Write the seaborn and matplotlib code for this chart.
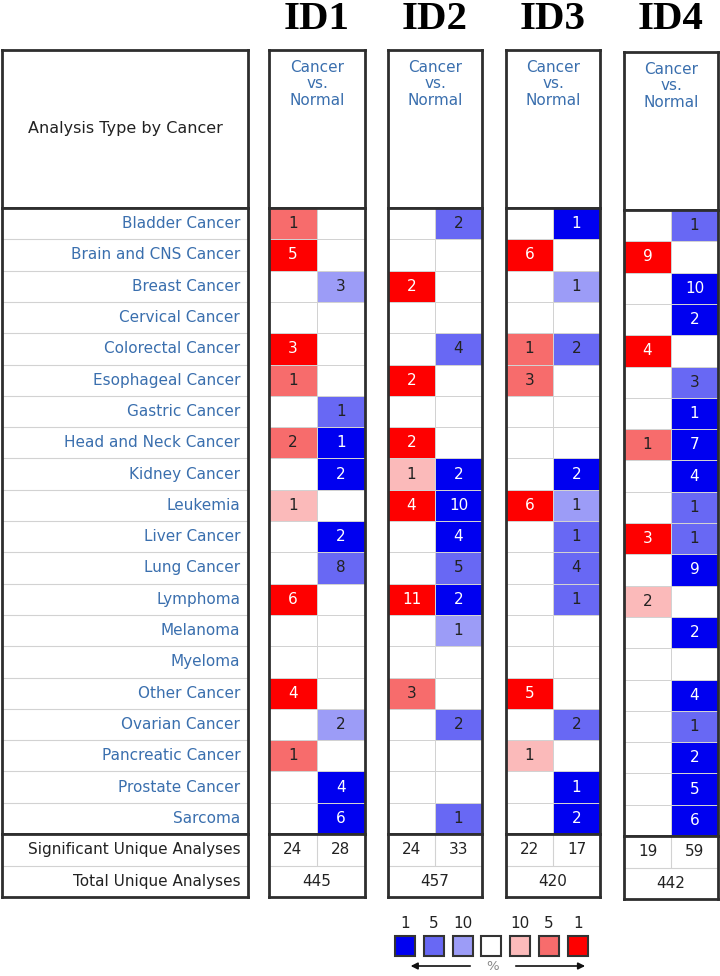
import numpy as np
import matplotlib
matplotlib.use("Agg")
import matplotlib.pyplot as plt
from matplotlib.colors import ListedColormap
from matplotlib.patches import Rectangle
import seaborn as sns

sns.set_style("white")
plt.rcParams['font.family'] = ['DejaVu Sans']

# data: cancer types, counts and percentile ranks (1, 5, 10; 0 = none)
cancers = ["Bladder Cancer", "Brain and CNS Cancer", "Breast Cancer", "Cervical Cancer",
           "Colorectal Cancer", "Esophageal Cancer", "Gastric Cancer", "Head and Neck Cancer",
           "Kidney Cancer", "Leukemia", "Liver Cancer", "Lung Cancer", "Lymphoma",
           "Melanoma", "Myeloma", "Other Cancer", "Ovarian Cancer", "Pancreatic Cancer",
           "Prostate Cancer", "Sarcoma"]
ids = ["ID1", "ID2", "ID3", "ID4"]

id1_up_n   = [1, 5, 0, 0, 3, 1, 0, 2, 0, 1, 0, 0, 6, 0, 0, 4, 0, 1, 0, 0]
id1_up_p   = [5, 1, 0, 0, 1, 5, 0, 5, 0, 10, 0, 0, 1, 0, 0, 1, 0, 5, 0, 0]
id1_down_n = [0, 0, 3, 0, 0, 0, 1, 1, 2, 0, 2, 8, 0, 0, 0, 0, 2, 0, 4, 6]
id1_down_p = [0, 0, 10, 0, 0, 0, 5, 1, 1, 0, 1, 5, 0, 0, 0, 0, 10, 0, 1, 1]

id2_up_n   = [0, 0, 2, 0, 0, 2, 0, 2, 1, 4, 0, 0, 11, 0, 0, 3, 0, 0, 0, 0]
id2_up_p   = [0, 0, 1, 0, 0, 1, 0, 1, 10, 1, 0, 0, 1, 0, 0, 5, 0, 0, 0, 0]
id2_down_n = [2, 0, 0, 0, 4, 0, 0, 0, 2, 10, 4, 5, 2, 1, 0, 0, 2, 0, 0, 1]
id2_down_p = [5, 0, 0, 0, 5, 0, 0, 0, 1, 1, 1, 5, 1, 10, 0, 0, 5, 0, 0, 5]

id3_up_n   = [0, 6, 0, 0, 1, 3, 0, 0, 0, 6, 0, 0, 0, 0, 0, 5, 0, 1, 0, 0]
id3_up_p   = [0, 1, 0, 0, 5, 5, 0, 0, 0, 1, 0, 0, 0, 0, 0, 1, 0, 10, 0, 0]
id3_down_n = [1, 0, 1, 0, 2, 0, 0, 0, 2, 1, 1, 4, 1, 0, 0, 0, 2, 0, 1, 2]
id3_down_p = [1, 0, 10, 0, 5, 0, 0, 0, 1, 10, 5, 5, 5, 0, 0, 0, 5, 0, 1, 1]

id4_up_n   = [0, 9, 0, 0, 4, 0, 0, 1, 0, 0, 3, 0, 2, 0, 0, 0, 0, 0, 0, 0]
id4_up_p   = [0, 1, 0, 0, 1, 0, 0, 5, 0, 0, 1, 0, 10, 0, 0, 0, 0, 0, 0, 0]
id4_down_n = [1, 0, 10, 2, 0, 3, 1, 7, 4, 1, 1, 9, 0, 2, 0, 4, 1, 2, 5, 6]
id4_down_p = [5, 0, 1, 1, 0, 5, 1, 1, 1, 5, 5, 1, 0, 1, 0, 1, 5, 1, 1, 1]

sig_up   = [24, 24, 22, 19]
sig_down = [28, 33, 17, 59]
total_unique = [445, 457, 420, 442]

legend_labels = ["1", "5", "10", "", "10", "5", "1"]

panels = [(id1_up_n, id1_up_p, id1_down_n, id1_down_p),
          (id2_up_n, id2_up_p, id2_down_n, id2_down_p),
          (id3_up_n, id3_up_p, id3_down_n, id3_down_p),
          (id4_up_n, id4_up_p, id4_down_n, id4_down_p)]

# colours (levels -3..3)
shade_colors = ["#0000f0", "#6868f4", "#9c9cf7", "#ffffff", "#fbbaba", "#f76c6c", "#fe0000"]
cmap = ListedColormap(shade_colors)
pct_to_level = {0: 0, 1: 3, 5: 2, 10: 1}
blue_txt = "#3a6fae"
border = "#2e2e2e"
grid_c = "#d2d2d2"

W, H = 720, 976
fig = plt.figure(figsize=(W / 100, H / 100), dpi=100)


def px_axes(x0, y0, x1, y1):
    ax = fig.add_axes([x0 / W, 1 - y1 / H, (x1 - x0) / W, (y1 - y0) / H])
    ax.set_xticks([])
    ax.set_yticks([])
    for s in ax.spines.values():
        s.set_visible(True)
        s.set_color(border)
        s.set_linewidth(2)
    return ax


top, head_bot, rows_bot, bot = 50, 208, 834, 897
panel_x = [(269, 365), (388, 482), (506, 600), (624, 718)]
panel_dy = [0, 0, 0, 2]

# left label panel
ax = px_axes(2, top, 248, head_bot)
ax.text(0.5, 0.5, "Analysis Type by Cancer", ha="center", va="center",
        fontsize=11.5, color="#222222", transform=ax.transAxes)

ax = px_axes(2, head_bot, 248, rows_bot)
ax.set_xlim(0, 1)
ax.set_ylim(len(cancers), 0)
for i, name in enumerate(cancers):
    if i > 0:
        ax.axhline(i, color=grid_c, lw=0.8)
    ax.text(0.968, i + 0.5, name, ha="right", va="center", fontsize=11, color=blue_txt)

ax = px_axes(2, rows_bot, 248, bot)
ax.set_xlim(0, 1)
ax.set_ylim(2, 0)
ax.axhline(1, color=grid_c, lw=0.8)
ax.text(0.968, 0.5, "Significant Unique Analyses", ha="right", va="center",
        fontsize=11, color="#222222")
ax.text(0.968, 1.5, "Total Unique Analyses", ha="right", va="center",
        fontsize=11, color="#222222")

# gene panels
for k, (up_n, up_p, dn_n, dn_p) in enumerate(panels):
    x0, x1 = panel_x[k]
    dy = panel_dy[k]
    fig.text((x0 + x1) / 2 / W, 1 - 29 / H, ids[k], ha="center", va="baseline",
             fontsize=29.5, fontweight="bold", family="Liberation Serif", color="black")

    ax = px_axes(x0, top + dy, x1, head_bot + dy)
    ax.text(0.5, 0.935, "Cancer\nvs.\nNormal", ha="center", va="top", fontsize=11,
            color=blue_txt, linespacing=1.1, transform=ax.transAxes)

    levels = np.array([[pct_to_level[a], -pct_to_level[b]] for a, b in zip(up_p, dn_p)])
    annot = np.array([[str(a) if a else "", str(b) if b else ""] for a, b in zip(up_n, dn_n)])
    ax = px_axes(x0, head_bot + dy, x1, rows_bot + dy)
    sns.heatmap(levels, ax=ax, cmap=cmap, vmin=-3.5, vmax=3.5, annot=annot, fmt="",
                cbar=False, linewidths=0.6, linecolor=grid_c, xticklabels=False,
                yticklabels=False, annot_kws=dict(fontsize=11))
    for txt, lv in zip(ax.texts, levels.flat):
        txt.set_color("white" if abs(lv) == 3 else "#222222")
    for s in ax.spines.values():
        s.set_visible(True)
        s.set_color(border)
        s.set_linewidth(2)

    ax = px_axes(x0, rows_bot + dy, x1, bot + dy)
    ax.set_xlim(0, 2)
    ax.set_ylim(2, 0)
    ax.axhline(1, color=grid_c, lw=0.8)
    ax.plot([1, 1], [0, 1], color=grid_c, lw=0.8)
    ax.text(0.5, 0.5, str(sig_up[k]), ha="center", va="center", fontsize=11, color="#222222")
    ax.text(1.5, 0.5, str(sig_down[k]), ha="center", va="center", fontsize=11, color="#222222")
    ax.text(1.0, 1.5, str(total_unique[k]), ha="center", va="center", fontsize=11, color="#222222")

# legend
lax = fig.add_axes([380 / W, 0, 220 / W, 71 / H])
lax.set_xlim(-0.868, 6.77)
lax.set_ylim(71, 0)
lax.axis("off")
for i, (c, lab) in enumerate(zip(shade_colors, legend_labels)):
    lax.add_patch(Rectangle((i - 0.347, 31), 0.694, 20, facecolor=c, edgecolor="#333333", lw=1.5))
    lax.text(i, 19, lab, ha="center", va="center", fontsize=11, color="#222222")
lax.annotate("", xy=(0.1, 61), xytext=(2.36, 61),
             arrowprops=dict(arrowstyle="-|>", color="#111111", lw=1.2))
lax.annotate("", xy=(6.35, 61), xytext=(3.75, 61),
             arrowprops=dict(arrowstyle="-|>", color="#111111", lw=1.2))
lax.text(3.05, 62, "%", ha="center", va="center", fontsize=9.5, color="#888888")

fig.savefig("out.png", dpi=100)
